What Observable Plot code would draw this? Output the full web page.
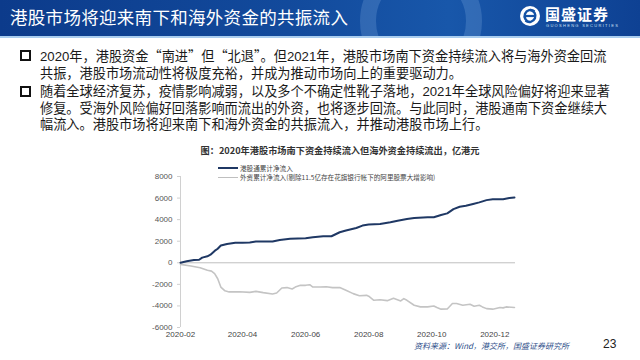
<!DOCTYPE html>
<html><head><meta charset="utf-8">
<script src="https://cdn.jsdelivr.net/npm/d3@7"></script>
<script src="https://cdn.jsdelivr.net/npm/@observablehq/plot@0.6"></script>
<style>
html,body{margin:0;padding:0;background:#fff;}
#slide{position:relative;width:640px;height:360px;overflow:hidden;background:#fff;font-family:"Noto Sans CJK SC","Noto Sans",sans-serif;}
#bar{position:absolute;left:0;top:0;width:640px;height:36px;overflow:hidden;background:linear-gradient(90deg,#0c3b8b 0%,#124a9c 45%,#1857aa 70%,#0e4193 100%);}
#bar .ring{position:absolute;left:360px;top:-40px;width:90px;height:90px;border-radius:50%;border:16px solid rgba(150,190,235,0.22);}
#barline{position:absolute;left:0;top:36px;width:640px;height:2px;background:#a9cdef;}
#title{position:absolute;left:10px;top:5px;color:#fff;font-size:17.5px;letter-spacing:0.3px;white-space:nowrap;line-height:24px;}
#logo{position:absolute;left:519px;top:5px;}
#logotext{position:absolute;left:545px;top:4px;color:#fff;font-size:15px;font-weight:bold;letter-spacing:1px;white-space:nowrap;line-height:20px;}
#logosub{position:absolute;left:546px;top:23px;color:#cfe0f5;font-size:4px;letter-spacing:1.3px;white-space:nowrap;font-family:"Liberation Sans",sans-serif;}
.bullet{position:absolute;width:7px;height:7px;border:2px solid #111;}
.line{position:absolute;left:40px;font-size:13.2px;color:#1a1a1a;white-space:nowrap;line-height:15px;font-family:"Liberation Sans","Noto Sans CJK SC",sans-serif;}
.q{font-family:"Noto Sans CJK SC",sans-serif;line-height:15px;}
#ctitle{position:absolute;left:140px;width:400px;top:143px;text-align:center;font-size:9.2px;font-weight:bold;color:#333;white-space:nowrap;font-family:"Noto Sans CJK SC",serif;}
.leg{position:absolute;font-size:6.6px;color:#444;white-space:nowrap;line-height:8px;}
.legline{position:absolute;}
#chart{position:absolute;left:140px;top:160px;}
#source{position:absolute;left:414px;top:341px;font-size:8px;line-height:9px;font-style:italic;color:#2f4f8a;white-space:nowrap;}
#page{position:absolute;left:603px;top:337px;font-size:12px;color:#222;font-family:"Liberation Sans",sans-serif;}
</style></head>
<body>
<div id="slide">
  <div id="bar"><div class="ring"></div></div>
  <div id="barline"></div>
  <div id="title">港股市场将迎来南下和海外资金的共振流入</div>
  <svg id="logo" width="22" height="22" viewBox="0 0 22 22">
    <circle cx="11" cy="11" r="10" fill="#fff"/>
    <path d="M15.5 6.5 A6 6 0 1 0 11 17 M6.5 15.5 A6 6 0 1 0 11 5" fill="none" stroke="#1553a6" stroke-width="2.4"/>
    <line x1="6" y1="11" x2="16" y2="11" stroke="#1553a6" stroke-width="2.2"/>
  </svg>
  <div id="logotext">国盛证券</div>
  <div id="logosub">GUOSHENG SECURITIES</div>

  <div class="bullet" style="left:20px;top:50px"></div>
  <div class="line" style="top:48px">2020年，港股资金<span class="q">“</span>南进<span class="q">”</span>但<span class="q">“</span>北退<span class="q">”</span>。但2021年，港股市场南下资金持续流入将与海外资金回流</div>
  <div class="line" style="top:66px">共振，港股市场流动性将极度充裕，并成为推动市场向上的重要驱动力。</div>
  <div class="bullet" style="left:20px;top:86px"></div>
  <div class="line" style="top:84px">随着全球经济复苏，疫情影响减弱，以及多个不确定性靴子落地，2021年全球风险偏好将迎来显著</div>
  <div class="line" style="top:101px">修复。受海外风险偏好回落影响而流出的外资，也将逐步回流。与此同时，港股通南下资金继续大</div>
  <div class="line" style="top:117px">幅流入。港股市场将迎来南下和海外资金的共振流入，并推动港股市场上行。</div>

  <div id="ctitle"></div>
  <div class="legline" style="left:218px;top:167px;width:20px;height:2px;background:#1f3864"></div>
  <div class="leg" id="leg1" style="left:240px;top:164px"></div>
  <div class="legline" style="left:218px;top:177px;width:20px;height:1px;background:#bfbfbf"></div>
  <div class="leg" id="leg2" style="left:240px;top:173px"></div>
  <div id="chart"></div>
  <div id="source">资料来源：Wind，港交所，国盛证券研究所</div>
  <div id="page">23</div>
</div>
<script>
const chartTitle = "图：2020年港股市场南下资金持续流入但海外资金持续流出，亿港元";
const seriesNames = ["港股通累计净流入", "外资累计净流入(剔除11.5亿存在花旗银行帐下的阿里股票大增影响)"];

const southDates = ["2020-02-01","2020-02-07","2020-02-14","2020-02-19","2020-02-22","2020-02-27","2020-03-01","2020-03-05","2020-03-08","2020-03-11","2020-03-17","2020-03-25","2020-04-01","2020-04-08","2020-04-14","2020-04-30","2020-05-07","2020-05-17","2020-06-01","2020-06-08","2020-06-18","2020-06-26","2020-07-04","2020-07-10","2020-07-20","2020-07-26","2020-08-01","2020-08-12","2020-08-22","2020-08-29","2020-09-07","2020-09-14","2020-09-27","2020-10-03","2020-10-10","2020-10-16","2020-10-22","2020-10-28","2020-11-03","2020-11-10","2020-11-16","2020-11-23","2020-11-29","2020-12-09","2020-12-15","2020-12-20"];
const southValues = [0,150,250,280,480,600,750,1100,1300,1600,1750,1850,1850,1880,1970,1970,2120,2220,2280,2370,2460,2460,2830,3000,3230,3450,3540,3600,3750,3900,4060,4150,4220,4220,4430,4580,4980,5200,5290,5450,5600,5810,5900,5900,6000,6060];

const foreignDates = ["2020-02-01","2020-02-11","2020-02-20","2020-02-27","2020-03-02","2020-03-05","2020-03-08","2020-03-11","2020-03-15","2020-03-19","2020-03-29","2020-04-08","2020-04-14","2020-04-21","2020-04-30","2020-05-04","2020-05-09","2020-05-14","2020-05-19","2020-05-22","2020-05-27","2020-06-01","2020-06-05","2020-06-08","2020-06-15","2020-06-21","2020-06-27","2020-07-04","2020-07-10","2020-07-17","2020-07-23","2020-07-30","2020-08-01","2020-08-06","2020-08-12","2020-08-19","2020-08-25","2020-09-01","2020-09-04","2020-09-07","2020-09-14","2020-09-20","2020-09-27","2020-10-03","2020-10-06","2020-10-10","2020-10-16","2020-10-21","2020-10-25","2020-10-31","2020-11-07","2020-11-11","2020-11-16","2020-11-19","2020-11-23","2020-11-29","2020-12-06","2020-12-09","2020-12-12","2020-12-20"];
const foreignValues = [-150,-300,-460,-700,-770,-1000,-1480,-2250,-2600,-2700,-2680,-2740,-2650,-2770,-2900,-2800,-2340,-2300,-2430,-2250,-2090,-2090,-2030,-2250,-2250,-2220,-2300,-2300,-2550,-2860,-3050,-3020,-3100,-3480,-3420,-3510,-3290,-3540,-3320,-3480,-3940,-4090,-4090,-4000,-4150,-4300,-4280,-3780,-3780,-3940,-3840,-4030,-3940,-4090,-4250,-4300,-4150,-4180,-4090,-4150];

const yTicks = [-6000,-4000,-2000,0,2000,4000,6000,8000];
const xTickLabels = ["2020-02","2020-04","2020-06","2020-08","2020-10","2020-12"];
const xDomain = ["2020-02-01","2020-12-21"];

document.getElementById("ctitle").textContent = chartTitle;
document.getElementById("leg1").textContent = seriesNames[0];
document.getElementById("leg2").textContent = seriesNames[1];

const toDate = s => new Date(s.length === 7 ? s + "-01" : s);
const south = southDates.map((d, i) => ({date: toDate(d), value: southValues[i]}));
const foreign = foreignDates.map((d, i) => ({date: toDate(d), value: foreignValues[i]}));
const xTicks = xTickLabels.map(toDate);

const chart = Plot.plot({
  width: 390, height: 185,
  marginLeft: 40, marginRight: 15, marginTop: 16, marginBottom: 18,
  style: {fontFamily: "'Liberation Sans', Arial, sans-serif", fontSize: "8px", background: "transparent"},
  x: {type: "utc", domain: xDomain.map(toDate)},
  y: {domain: [-6000, 8000]},
  marks: [
    Plot.ruleX([toDate(xDomain[0])], {y1: -6000, y2: 8000, stroke: "#d0d0d0"}),
    Plot.ruleY([0], {stroke: "#bfbfbf"}),
    Plot.axisY({ticks: yTicks, tickSize: 3, tickPadding: 5, stroke: "#d0d0d0", fill: "#555", tickFormat: d => String(d), label: null}),
    Plot.axisX({ticks: xTicks, tickSize: 0, tickPadding: 4, fill: "#444", tickFormat: d3.utcFormat("%Y-%m"), label: null}),
    Plot.line(foreign, {x: "date", y: "value", stroke: "#c4c4c4", strokeWidth: 1.6}),
    Plot.line(south, {x: "date", y: "value", stroke: "#1f3864", strokeWidth: 2})
  ]
});
document.getElementById("chart").appendChild(chart);
</script>
</body></html>
